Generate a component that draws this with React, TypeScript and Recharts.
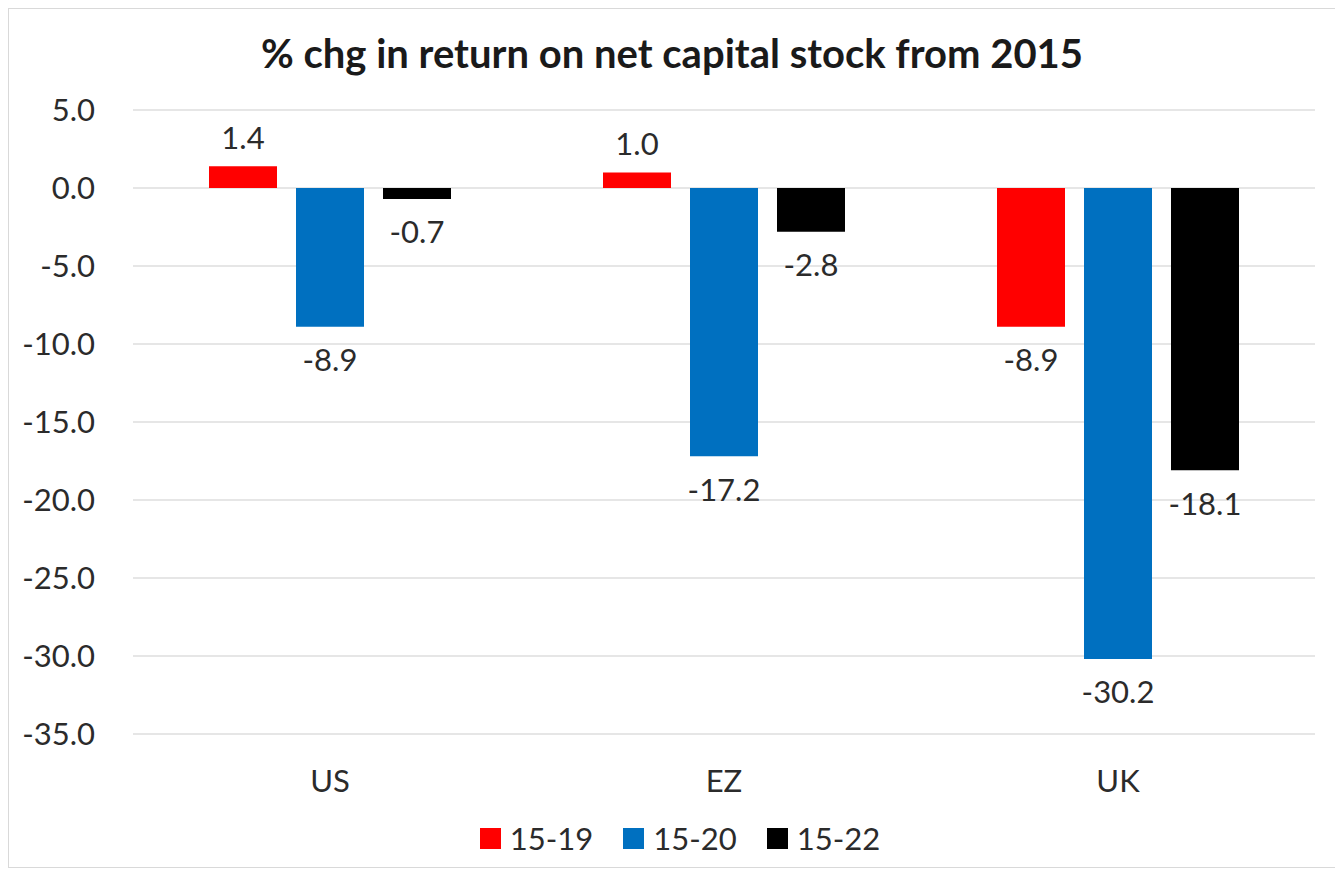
import React from 'react';
import { BarChart, Bar, XAxis, YAxis, CartesianGrid, LabelList } from 'recharts';

const regions = ['US', 'EZ', 'UK'];
const s1519 = [1.4, 1.0, -8.9];
const s1520 = [-8.9, -17.2, -30.2];
const s1522 = [-0.7, -2.8, -18.1];
const yTicks = [5, 0, -5, -10, -15, -20, -25, -30, -35];
const seriesNames = ['15-19', '15-20', '15-22'];
const seriesColors = ['#ff0000', '#0070c0', '#000000'];

const data = regions.map((r, i) => ({ region: r, a: s1519[i], b: s1520[i], c: s1522[i] }));
const keys = ['a', 'b', 'c'];

const FONT = 'Lato, "Open Sans", sans-serif';
const TEXT = '#2b2b2b';
const FS = 31;

const renderLabel = (props: any) => {
  const { x, y, width, height, value } = props;
  const top = Math.min(y, y + height);
  const bottom = Math.max(y, y + height);
  const cx = x + width / 2;
  if (value >= 0) {
    return (
      <text x={cx} y={top - 17} textAnchor="middle" fill={TEXT} fontSize={FS} fontFamily={FONT}>
        {Number(value).toFixed(1)}
      </text>
    );
  }
  return (
    <text x={cx} y={bottom + 22} dy="0.72em" textAnchor="middle" fill={TEXT} fontSize={FS} fontFamily={FONT}>
      {Number(value).toFixed(1)}
    </text>
  );
};

export default function App() {
  return (
    <div
      style={{
        position: 'relative',
        width: 1328,
        height: 860,
        boxSizing: 'border-box',
        border: '1px solid #d9d9d9',
        background: '#fff',
        fontFamily: FONT,
      }}
    >
      <div
        style={{
          position: 'absolute',
          left: 0,
          top: 19,
          width: '100%',
          textAlign: 'center',
          fontSize: 40,
          fontWeight: 700,
          color: '#1a1a1a',
          lineHeight: '50px',
        }}
      >
        % chg in return on net capital stock from 2015
      </div>
      <div style={{ position: 'absolute', left: 0, top: 0 }}>
        <BarChart
          width={1326}
          height={858}
          data={data}
          margin={{ top: 101, right: 20, bottom: 73, left: 0 }}
          barCategoryGap={76}
          barGap={19}
        >
          <CartesianGrid vertical={false} stroke="#dedede" strokeWidth={1.5} />
          <XAxis
            dataKey="region"
            axisLine={false}
            tickLine={false}
            tickSize={6}
            tickMargin={30}
            height={60}
            tick={{ fill: TEXT, fontSize: FS, fontFamily: FONT }}
          />
          <YAxis
            type="number"
            domain={[-35, 5]}
            ticks={yTicks}
            interval={0}
            width={124}
            axisLine={false}
            tickLine={false}
            tickSize={6}
            tickMargin={32}
            tickFormatter={(v: number) => v.toFixed(1)}
            tick={{ fill: TEXT, fontSize: FS, fontFamily: FONT }}
          />
          {keys.map((k, i) => (
            <Bar key={k} dataKey={k} name={seriesNames[i]} fill={seriesColors[i]} isAnimationActive={false}>
              <LabelList dataKey={k} content={renderLabel} />
            </Bar>
          ))}
        </BarChart>
      </div>
      <div
        style={{
          position: 'absolute',
          left: 8,
          top: 810,
          width: '100%',
          display: 'flex',
          justifyContent: 'center',
          alignItems: 'center',
          gap: 30,
          fontSize: FS,
          color: TEXT,
        }}
      >
        {seriesNames.map((n, i) => (
          <div key={n} style={{ display: 'flex', alignItems: 'center' }}>
            <span
              style={{ display: 'inline-block', width: 21, height: 21, background: seriesColors[i], marginRight: 9 }}
            />
            <span>{n}</span>
          </div>
        ))}
      </div>
    </div>
  );
}
